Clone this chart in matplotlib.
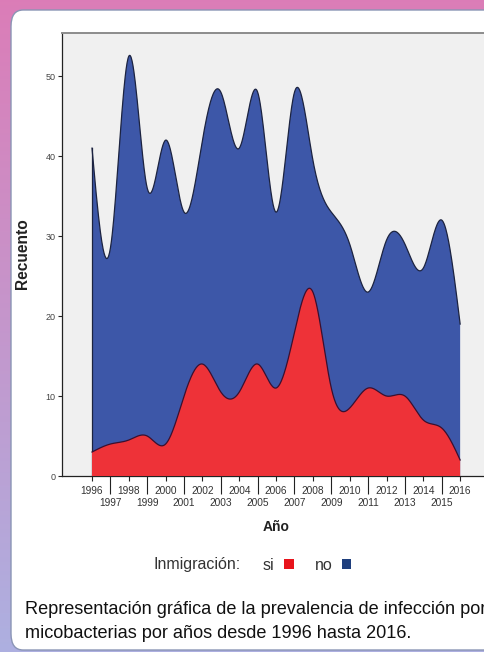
import numpy as np
import matplotlib
matplotlib.use("Agg")
import matplotlib.pyplot as plt
from matplotlib.patches import FancyBboxPatch, Patch
from matplotlib.ticker import FixedLocator, FixedFormatter

plt.rcParams['font.family'] = ['Liberation Sans', 'DejaVu Sans']

# ---- data ----
years = list(range(1996, 2017))
si = [3, 4, 4.5, 5, 4, 10, 14, 10.5, 10.5, 14, 11, 18, 23, 11, 8.5, 11, 10, 10, 7, 6, 2]
no = [38, 24.5, 48, 31, 38, 23, 28, 37.5, 30.5, 34, 22, 30, 16.5, 22, 20.5, 12, 19.5, 19, 19, 26, 17]
even_labels = [str(y) for y in years if y % 2 == 0]
odd_labels = [str(y) for y in years if y % 2 == 1]
y_ticks = [0, 10, 20, 30, 40, 50]
legend_labels = ["si", "no"]


def natural_spline(x, y, xs):
    x = np.asarray(x, float); y = np.asarray(y, float)
    n = len(x); h = np.diff(x)
    A = np.zeros((n, n)); b = np.zeros(n)
    A[0, 0] = 1; A[-1, -1] = 1
    for i in range(1, n - 1):
        A[i, i - 1] = h[i - 1]; A[i, i] = 2 * (h[i - 1] + h[i]); A[i, i + 1] = h[i]
        b[i] = 3 * ((y[i + 1] - y[i]) / h[i] - (y[i] - y[i - 1]) / h[i - 1])
    c = np.linalg.solve(A, b)
    bb = (y[1:] - y[:-1]) / h - h * (2 * c[:-1] + c[1:]) / 3
    d = (c[1:] - c[:-1]) / (3 * h)
    idx = np.clip(np.searchsorted(x, xs) - 1, 0, n - 2)
    t = xs - x[idx]
    return y[idx] + bb[idx] * t + c[idx] * t ** 2 + d[idx] * t ** 3


W, H = 485, 652
fig = plt.figure(figsize=(W / 100, H / 100), dpi=100)

# background gradient
bg = fig.add_axes([0, 0, 1, 1], zorder=-10)
grad = np.linspace(0, 1, 256)[:, None]
c_top = np.array([0.86, 0.49, 0.72]); c_bot = np.array([0.68, 0.69, 0.88])
img = (c_top[None, None, :] * (1 - grad[..., None]) + c_bot[None, None, :] * grad[..., None])
img = np.repeat(img, 4, axis=1)
bg.imshow(img, aspect='auto', extent=[0, 1, 0, 1])
bg.set_xlim(0, 1); bg.set_ylim(0, 1); bg.axis('off')
panel = FancyBboxPatch((11 / W, 2 / H), 520 / W, (650 - 10) / H,
                       boxstyle="round,pad=0,rounding_size=0.025",
                       transform=fig.transFigure, facecolor='white',
                       edgecolor='#8a95b5', linewidth=1.0, zorder=-5)
fig.patches.append(panel)

ax = fig.add_axes([62 / W, (H - 476) / H, 1 - 62 / W, (476 - 33) / H])
ax.set_facecolor('#f0f0f0')

xs = np.linspace(years[0], years[-1], 800)
si_s = natural_spline(years, si, xs)
tot = [a + b for a, b in zip(si, no)]
tot_s = natural_spline(years, tot, xs)

col_si = '#ee3238'
col_no = '#3d57a8'
ax.fill_between(xs, 0, tot_s, facecolor=col_no, edgecolor='none', zorder=2)
ax.plot(xs, tot_s, color='#1c2340', lw=0.9, zorder=3)
ax.plot([xs[0], xs[0]], [0, tot_s[0]], color='#1c2340', lw=0.9, zorder=3)
ax.fill_between(xs, 0, si_s, facecolor=col_si, edgecolor='none', zorder=4)
ax.plot(xs, si_s, color='#3a1030', lw=0.9, zorder=5)

ax.set_xlim(1994.37, 2017.35)
ax.set_ylim(0, 55.4)

ax.xaxis.set_major_locator(FixedLocator([y for y in years if y % 2 == 0]))
ax.xaxis.set_major_formatter(FixedFormatter(even_labels))
ax.xaxis.set_minor_locator(FixedLocator([y for y in years if y % 2 == 1]))
ax.xaxis.set_minor_formatter(FixedFormatter(odd_labels))
ax.tick_params(axis='x', which='major', length=3.6, width=0.8, pad=3.3,
               labelsize=7.3, labelcolor='#333333', color='#222222')
ax.tick_params(axis='x', which='minor', length=13, width=0.8, pad=3.2,
               labelsize=7.3, labelcolor='#333333', color='#222222')
ax.set_yticks(y_ticks)
ax.tick_params(axis='y', length=3.2, width=0.8, pad=1.5, labelsize=6.5,
               labelcolor='#444444', color='#222222')

for s in ['left', 'bottom']:
    ax.spines[s].set_color('#222222'); ax.spines[s].set_linewidth(0.9)
ax.spines['top'].set_color('#8c8c8c'); ax.spines['top'].set_linewidth(1.4)
ax.spines['right'].set_visible(False)

fig.text(23 / W, 1 - 254 / H, 'Recuento', rotation=90, fontsize=11.2,
         fontweight='bold', ha='center', va='center', color='#222222')
fig.text(276 / W, 1 - 527 / H, 'Año', fontsize=10, fontweight='bold',
         ha='center', va='center', color='#222222')

# legend
fig.text(241 / W, 1 - 565 / H, 'Inmigración:', fontsize=11.5, ha='right',
         va='center', color='#333333')
handles = [Patch(facecolor='#e8141c', edgecolor='none'),
           Patch(facecolor='#1f3f7d', edgecolor='none')]
fig.legend(handles, legend_labels, loc='center left',
           bbox_to_anchor=(255 / W, 1 - 565 / H), ncol=2, frameon=False,
           markerfirst=False, fontsize=11.5, handlelength=0.6,
           handleheight=0.6, handletextpad=0.6, columnspacing=1.3,
           borderpad=0, labelcolor='#333333')

fig.text(25 / W, 1 - 609 / H,
         'Representación gráfica de la prevalencia de infección por',
         fontsize=13.1, ha='left', va='center', color='#111111')
fig.text(25 / W, 1 - 634 / H,
         'micobacterias por años desde 1996 hasta 2016.',
         fontsize=13.1, ha='left', va='center', color='#111111')

fig.savefig('out.png', dpi=100)
